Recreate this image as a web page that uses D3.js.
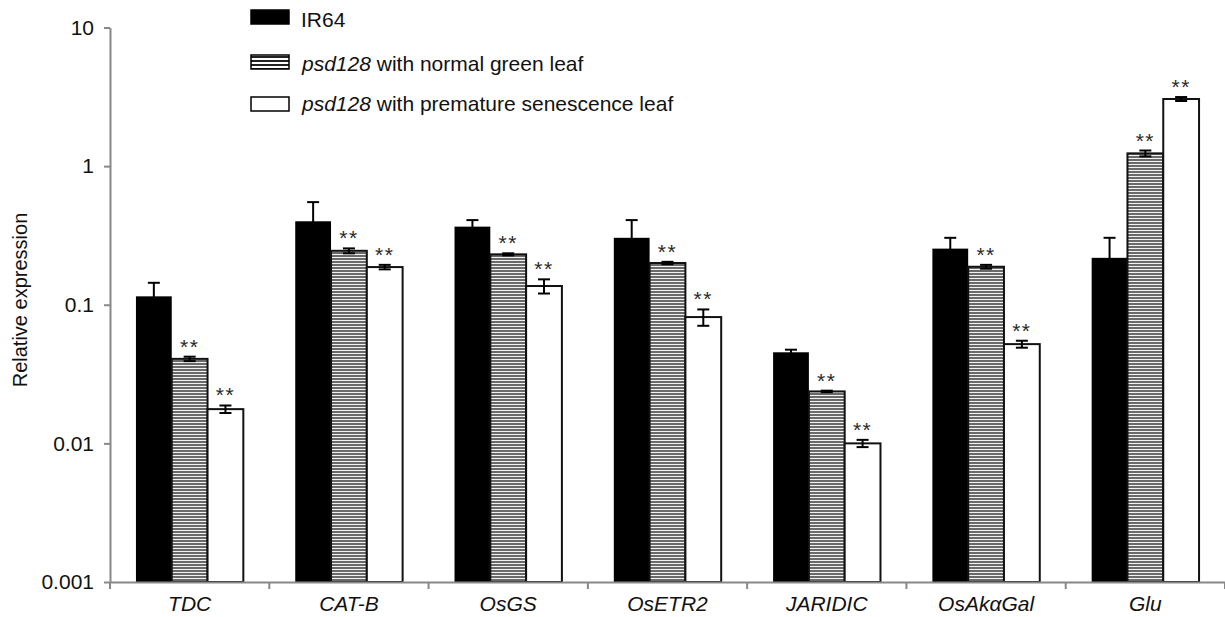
<!DOCTYPE html>
<html>
<head>
<meta charset="utf-8">
<script src="https://cdn.jsdelivr.net/npm/d3@7"></script>
<style>
  html, body { margin: 0; padding: 0; background: #fff; }
  svg { display: block; font-family: "Liberation Sans", Arial, sans-serif; }
</style>
</head>
<body>
<svg id="chart" width="1225" height="617"></svg>
<script>
const categories = ["TDC", "CAT-B", "OsGS", "OsETR2", "JARIDIC", "OsAkαGal", "Glu"];
const seriesNames = ["IR64", "psd128 with normal green leaf", "psd128 with premature senescence leaf"];
const ir64Values = [0.115, 0.40, 0.366, 0.304, 0.0454, 0.254, 0.218];
const ir64Errors = [0.029, 0.15, 0.042, 0.104, 0.002, 0.05, 0.086];
const greenValues = [0.0407, 0.245, 0.231, 0.200, 0.0237, 0.188, 1.236];
const greenErrors = [0.0015, 0.01, 0.004, 0.004, 0.0003, 0.006, 0.06];
const senescValues = [0.01766, 0.187, 0.1365, 0.0815, 0.0100, 0.052, 3.05];
const senescErrors = [0.0011, 0.007, 0.016, 0.011, 0.0006, 0.003, 0.1];
const greenSig = ["**", "**", "**", "**", "**", "**", "**"];
const senescSig = ["**", "**", "**", "**", "**", "**", "**"];
const yTicks = [0.001, 0.01, 0.1, 1, 10];
const yTickLabels = ["0.001", "0.01", "0.1", "1", "10"];

(function () {
const svg = d3.select("#chart");
const defs = svg.append("defs");

const pat = defs.append("pattern").attr("id", "hatch").attr("patternUnits", "userSpaceOnUse")
  .attr("width", 8).attr("height", 3);
pat.append("rect").attr("width", 8).attr("height", 3).attr("fill", "#f2f2f2");
pat.append("rect").attr("width", 8).attr("height", 2).attr("fill", "#6a6a6a");

const patL = defs.append("pattern").attr("id", "hatchL").attr("patternUnits", "userSpaceOnUse")
  .attr("width", 8).attr("height", 4);
patL.append("rect").attr("width", 8).attr("height", 4).attr("fill", "#ffffff");
patL.append("rect").attr("width", 8).attr("height", 2).attr("fill", "#222");

const series = [
  { name: seriesNames[0], values: ir64Values, errors: ir64Errors, sig: null, fill: "#000", stroke: "#000" },
  { name: seriesNames[1], values: greenValues, errors: greenErrors, sig: greenSig, fill: "url(#hatch)", stroke: "#111" },
  { name: seriesNames[2], values: senescValues, errors: senescErrors, sig: senescSig, fill: "#fff", stroke: "#111" }
];

const mLeft = 110, mRight = 1225, mTop = 27.5, mBottom = 582;

const y = d3.scaleLog().domain([0.001, 10]).range([mBottom, mTop]);
const x0 = d3.scaleBand().domain(categories).range([mLeft, mRight]).padding(0);
const x1 = d3.scaleBand().domain(seriesNames).range([0, x0.bandwidth()]).paddingInner(0).paddingOuter(0.725);

const groups = svg.append("g").selectAll("g").data(categories).join("g")
  .attr("transform", d => `translate(${x0(d)},0)`);

series.forEach((s, si) => {
  groups.append("rect")
    .attr("x", x1(s.name))
    .attr("width", x1.bandwidth())
    .attr("y", (d, i) => y(s.values[i]))
    .attr("height", (d, i) => mBottom - y(s.values[i]))
    .attr("fill", s.fill)
    .attr("stroke", s.stroke)
    .attr("stroke-width", si === 0 ? 0 : 2);
});

series.forEach((s, si) => {
  const cx = x1(s.name) + x1.bandwidth() / 2;
  const cap = 6;
  const eg = groups.append("g");
  eg.append("line")
    .attr("x1", cx).attr("x2", cx)
    .attr("y1", (d, i) => y(s.values[i] + s.errors[i]))
    .attr("y2", (d, i) => y(Math.max(s.values[i] - s.errors[i], 0.0011)))
    .attr("stroke", "#000").attr("stroke-width", 2);
  eg.append("line")
    .attr("x1", cx - cap).attr("x2", cx + cap)
    .attr("y1", (d, i) => y(s.values[i] + s.errors[i]))
    .attr("y2", (d, i) => y(s.values[i] + s.errors[i]))
    .attr("stroke", "#000").attr("stroke-width", 2);
  if (si > 0) {
    eg.append("line")
      .attr("x1", cx - cap).attr("x2", cx + cap)
      .attr("y1", (d, i) => y(s.values[i] - s.errors[i]))
      .attr("y2", (d, i) => y(s.values[i] - s.errors[i]))
      .attr("stroke", "#000").attr("stroke-width", 2);
  }
  if (s.sig) {
    groups.append("text")
      .attr("x", cx)
      .attr("y", (d, i) => y(s.values[i] + s.errors[i]) - 3)
      .attr("text-anchor", "middle")
      .attr("font-size", 21)
      .attr("letter-spacing", 1.5)
      .attr("fill", "#2a2a2a")
      .text((d, i) => s.sig[i]);
  }
});

const yAxis = d3.axisLeft(y).tickValues(yTicks).tickFormat((d, i) => yTickLabels[i]).tickSize(6).tickSizeOuter(0).tickPadding(10);
const yg = svg.append("g").attr("transform", `translate(${mLeft},0)`).call(yAxis);
yg.select(".domain").attr("stroke", "#888").attr("stroke-width", 2);
yg.selectAll(".tick line").attr("stroke", "#888").attr("stroke-width", 2);
yg.selectAll(".tick text").attr("font-size", 21).attr("fill", "#111")
  .attr("font-family", "'Liberation Sans', Arial, sans-serif");

const xAxis = d3.axisBottom(x0).tickSize(0).tickPadding(14);
const xg = svg.append("g").attr("transform", `translate(0,${mBottom})`).call(xAxis);
xg.select(".domain").attr("stroke", "#888").attr("stroke-width", 2);
xg.selectAll(".tick text").attr("font-size", 21).attr("font-style", "italic").attr("fill", "#111")
  .attr("font-family", "'Liberation Sans', Arial, sans-serif");
const bounds = categories.map(c => x0(c)).concat([mRight]);
xg.selectAll(".bound").data(bounds).join("line").attr("class", "bound")
  .attr("x1", d => d).attr("x2", d => d).attr("y1", 0).attr("y2", 7)
  .attr("stroke", "#888").attr("stroke-width", 2);

svg.append("text")
  .attr("transform", `translate(22,300) rotate(-90)`)
  .attr("text-anchor", "middle")
  .attr("dominant-baseline", "middle")
  .attr("font-size", 20)
  .attr("fill", "#111")
  .text("Relative expression");

const legendY = [10, 55, 97];
const legendBase = [26.5, 70.5, 111];
const legendFills = ["#000", "url(#hatchL)", "#fff"];
const lg = svg.append("g");
seriesNames.forEach((n, i) => {
  lg.append("rect").attr("x", 251).attr("y", legendY[i]).attr("width", 38).attr("height", 14)
    .attr("fill", legendFills[i]).attr("stroke", "#000").attr("stroke-width", 1.5);
  const t = lg.append("text").attr("x", i === 0 ? 301 : 302).attr("y", legendBase[i])
    .attr("font-size", 21).attr("fill", "#111");
  if (i === 0) {
    t.text(n);
  } else {
    const parts = n.split(" ");
    t.append("tspan").attr("font-style", "italic").text(parts[0]);
    t.append("tspan").text(" " + parts.slice(1).join(" "));
  }
});
})();
</script>
</body>
</html>
